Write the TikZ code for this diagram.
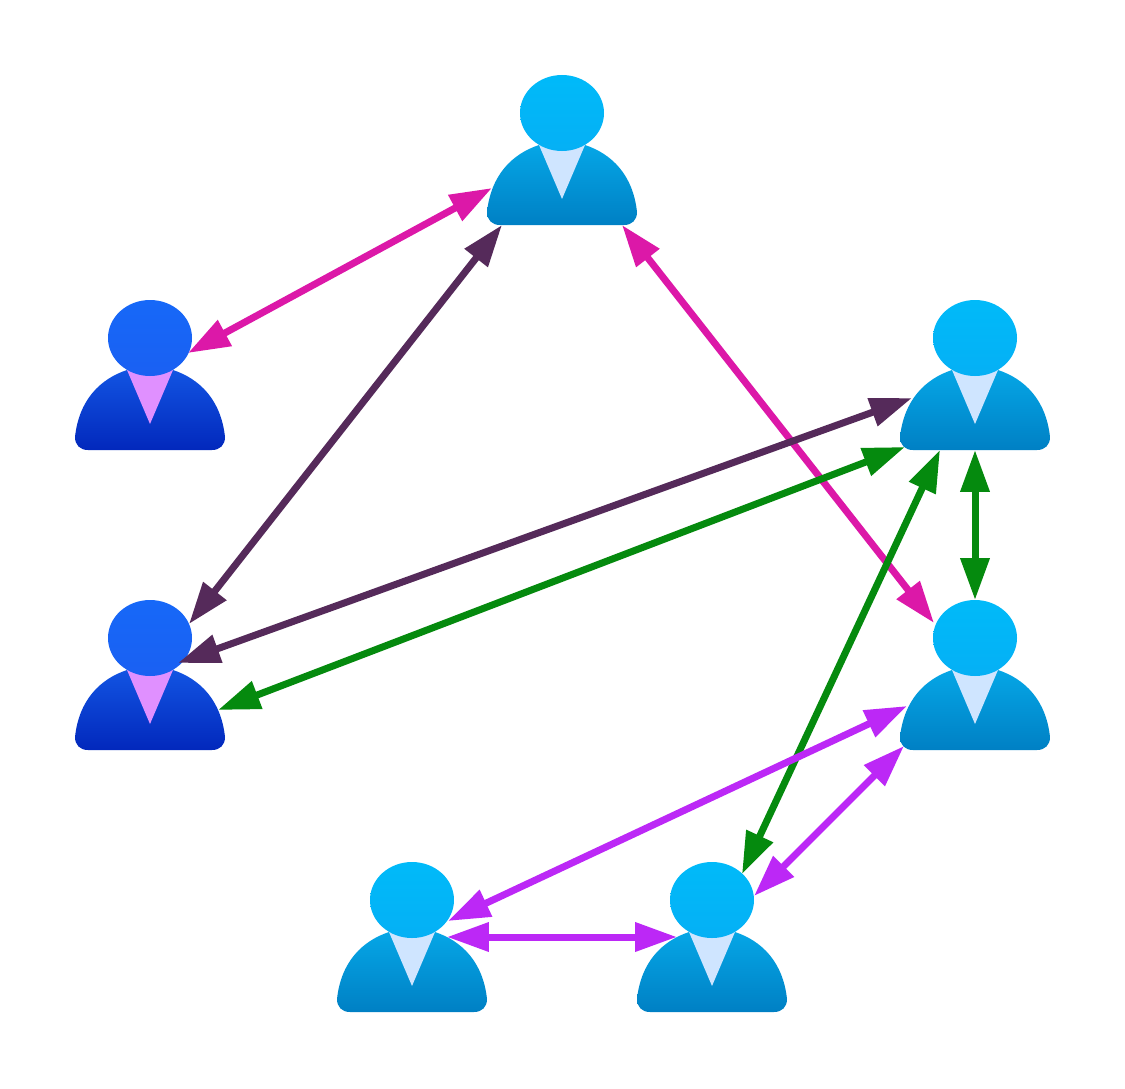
\documentclass[tikz,border=0pt]{standalone}
\usetikzlibrary{arrows.meta}

\definecolor{cyanHeadTop}{HTML}{00BAF9}
\definecolor{cyanHeadBot}{HTML}{05B0F5}
\definecolor{cyanBodyTop}{HTML}{05A6E6}
\definecolor{cyanBodyBot}{HTML}{0080C4}
\definecolor{cyanTie}{HTML}{CFE5FF}
\definecolor{blueHeadTop}{HTML}{1668F8}
\definecolor{blueHeadBot}{HTML}{1A60F2}
\definecolor{blueBodyTop}{HTML}{1254E2}
\definecolor{blueBodyBot}{HTML}{0228BC}
\definecolor{blueTie}{HTML}{E090FF}
\definecolor{linkPink}{HTML}{DC18A8}
\definecolor{linkPlum}{HTML}{552A5A}
\definecolor{linkGreen}{HTML}{058A0E}
\definecolor{linkViolet}{HTML}{BC28F6}

\tikzset{
	personbox/.style={minimum size=3cm, inner sep=0pt},
	link/.style={line width=0.14cm, {Triangle[length=0.84cm, width=0.56cm]}-{Triangle[length=0.84cm, width=0.56cm]}},
}

% name, position, colour family
\newcommand{\person}[3]{%
	\node [personbox] (#1) at (#2) {};
	\begin{scope}[shift={(#1.center)}]
		\path [top color=#3BodyTop, bottom color=#3BodyBot]
			(-62,75) .. controls (-70,75) and (-75,70) .. (-75,62)
			.. controls (-71,25) and (-50,4) .. (-23,-5)
			-- (23,-5)
			.. controls (50,4) and (71,25) .. (75,62)
			.. controls (75,70) and (70,75) .. (62,75)
			-- cycle;
		\fill [#3Tie] (-23,-5) -- (0,49) -- (23,-5) -- cycle;
		\path [top color=#3HeadTop, bottom color=#3HeadBot] (0,-37) ellipse [x radius=42, y radius=38];
	\end{scope}
}

\begin{document}
\begin{tikzpicture}[x=0.02cm, y=-0.02cm]

\path [use as bounding box] (0,0) rectangle (1125,1088);

% PEOPLE
\person{top}{562,150}{cyan}
\person{west}{150,375}{blue}
\person{southwest}{150,675}{blue}
\person{east}{975,375}{cyan}
\person{southeast}{975,675}{cyan}
\person{botleft}{412,937}{cyan}
\person{botright}{712,937}{cyan}

% PINK
\draw [link, linkPink] ([shift={(-70,38)}]top.center) -- ([shift={(38,-22)}]west.center);
\draw [link, linkPink] ([shift={(60,75)}]top.center) -- ([shift={(-41,-52)}]southeast.center);

% PLUM
\draw [link, linkPlum] ([shift={(-60,75)}]top.center) -- ([shift={(39,-51)}]southwest.center);
\draw [link, linkPlum] ([shift={(-63,23)}]east.center) -- ([shift={(28,-12)}]southwest.center);

% GREEN
\draw [link, linkGreen] ([shift={(-70,72)}]east.center) -- ([shift={(68,35)}]southwest.center);
\draw [link, linkGreen] ([shift={(-35,75)}]east.center) -- ([shift={(30,-63)}]botright.center);
\draw [link, linkGreen] ([shift={(0,75)}]east.center) -- ([shift={(0,-75)}]southeast.center);

% VIOLET
\draw [link, linkViolet] ([shift={(-68,31)}]southeast.center) -- ([shift={(36,-16)}]botleft.center);
\draw [link, linkViolet] ([shift={(-71,71)}]southeast.center) -- ([shift={(42,-41)}]botright.center);
\draw [link, linkViolet] ([shift={(35,0)}]botleft.center) -- ([shift={(-35,0)}]botright.center);

\end{tikzpicture}
\end{document}
